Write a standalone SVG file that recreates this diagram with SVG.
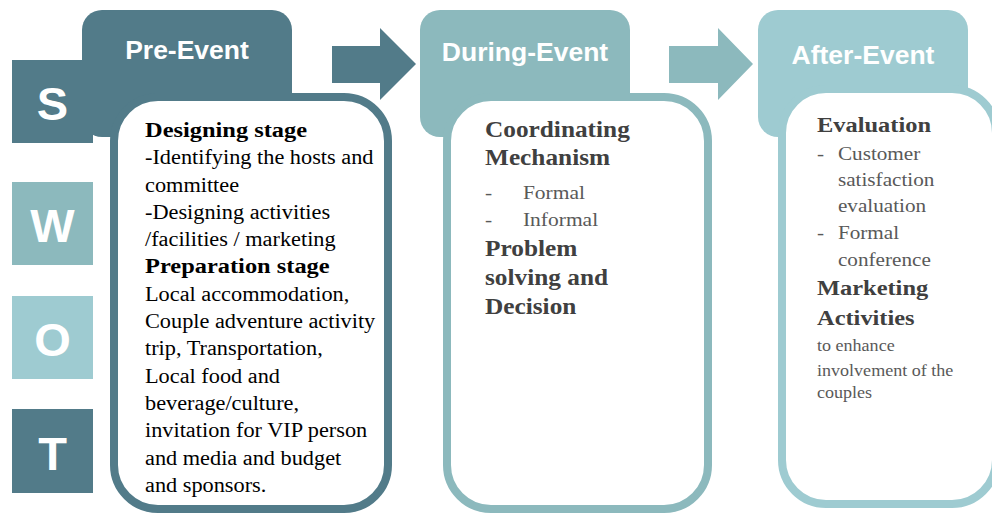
<svg xmlns="http://www.w3.org/2000/svg" width="992" height="514" viewBox="0 0 992 514">
  <style>
    .dark { fill: #527b89; }
    .mid { fill: #8cb9bd; }
    .light { fill: #9ecbd1; }
    .panel { fill: #ffffff; stroke-width: 8; }
    .hdr { font-family: "Liberation Sans", Arial, sans-serif; font-weight: bold; font-size: 26.5px; fill: #ffffff; text-anchor: middle; }
    .letter { font-family: "Liberation Sans", Arial, sans-serif; font-weight: bold; font-size: 47px; fill: #ffffff; text-anchor: middle; }
    .body { font-family: "Liberation Serif", "Times New Roman", serif; }
    .h { font-weight: bold; }
    .pre text { fill: #000000; }
    .gray .h { fill: #404040; }
    .gray .r { fill: #595959; }
  </style>

  <!-- Pre-Event phase -->
  <g id="pre-event">
    <rect class="dark" x="82" y="10" width="210" height="127" rx="20"/>
    <rect class="panel" x="114" y="97" width="274" height="412" rx="44" stroke="#527b89"/>
    <text class="hdr" x="187" y="59">Pre-Event</text>
    <g class="body pre" transform="translate(145 0) scale(1.115 1)">
      <text class="h" x="0" y="137" font-size="21.9">Designing stage</text>
      <text x="0" y="164.3" font-size="20">-Identifying the hosts and</text>
      <text x="0" y="191.6" font-size="20">committee</text>
      <text x="0" y="218.9" font-size="20">-Designing activities</text>
      <text x="0" y="246.2" font-size="20">/facilities / marketing</text>
      <text class="h" x="0" y="273.5" font-size="21.9">Preparation stage</text>
      <text x="0" y="300.8" font-size="20">Local accommodation,</text>
      <text x="0" y="328.1" font-size="20">Couple adventure activity</text>
      <text x="0" y="355.4" font-size="20">trip, Transportation,</text>
      <text x="0" y="382.7" font-size="20">Local food and</text>
      <text x="0" y="410" font-size="20">beverage/culture,</text>
      <text x="0" y="437.3" font-size="20">invitation for VIP person</text>
      <text x="0" y="464.6" font-size="20">and media and budget</text>
      <text x="0" y="492" font-size="20">and sponsors.</text>
    </g>
  </g>

  <!-- During-Event phase -->
  <g id="during-event">
    <rect class="mid" x="420" y="10" width="210" height="127" rx="20"/>
    <rect class="panel" x="447" y="97" width="261" height="412" rx="44" stroke="#8cb9bd"/>
    <text class="hdr" x="525" y="61">During-Event</text>
    <g class="body gray" transform="translate(485 0) scale(1.115 1)">
      <text class="h" x="0" y="137" font-size="22.7">Coordinating</text>
      <text class="h" x="0" y="165" font-size="22.7">Mechanism</text>
      <text class="r" x="0" y="199" font-size="19.3">-</text>
      <text class="r" x="34" y="199" font-size="19.3">Formal</text>
      <text class="r" x="0" y="226" font-size="19.3">-</text>
      <text class="r" x="34" y="226" font-size="19.3">Informal</text>
      <text class="h" x="0" y="256" font-size="22.7">Problem</text>
      <text class="h" x="0" y="285" font-size="22.7">solving and</text>
      <text class="h" x="0" y="314" font-size="22.7">Decision</text>
    </g>
  </g>

  <!-- After-Event phase -->
  <g id="after-event">
    <rect class="light" x="758" y="10" width="210" height="127" rx="20"/>
    <rect class="panel" x="782" y="89" width="214" height="415" rx="44" stroke="#9ecbd1"/>
    <text class="hdr" x="863" y="64">After-Event</text>
    <g class="body gray" transform="translate(817 0) scale(1.115 1)">
      <text class="h" x="0" y="132" font-size="21.9">Evaluation</text>
      <text class="r" x="0" y="160" font-size="19">-</text>
      <text class="r" x="18.8" y="160" font-size="19">Customer</text>
      <text class="r" x="18.8" y="186" font-size="19">satisfaction</text>
      <text class="r" x="18.8" y="212" font-size="19">evaluation</text>
      <text class="r" x="0" y="239" font-size="19">-</text>
      <text class="r" x="18.8" y="239" font-size="19">Formal</text>
      <text class="r" x="18.8" y="266" font-size="19">conference</text>
      <text class="h" x="0" y="295" font-size="21.9">Marketing</text>
      <text class="h" x="0" y="325" font-size="21.9">Activities</text>
      <text class="r" x="0" y="351" font-size="16.2">to enhance</text>
      <text class="r" x="0" y="376" font-size="16.2">involvement of the</text>
      <text class="r" x="0" y="398" font-size="16.2">couples</text>
    </g>
  </g>

  <!-- SWOT column -->
  <g id="swot-s">
    <rect class="dark" x="12" y="60" width="81" height="83"/>
    <text class="letter" x="52.5" y="120">S</text>
  </g>
  <g id="swot-w">
    <rect class="mid" x="12" y="182" width="81" height="83"/>
    <text class="letter" x="52.5" y="242">W</text>
  </g>
  <g id="swot-o">
    <rect class="light" x="12" y="296" width="81" height="83"/>
    <text class="letter" x="52.5" y="356">O</text>
  </g>
  <g id="swot-t">
    <rect class="dark" x="12" y="409" width="81" height="84"/>
    <text class="letter" x="52.5" y="470">T</text>
  </g>

  <!-- Block arrows between phases -->
  <g id="connectors">
    <polygon class="dark" points="332,46 380,46 380,28 416,64 380,100 380,83 332,83"/>
    <polygon class="mid" points="669,46 718,46 718,28 753,64 718,100 718,83 669,83"/>
  </g>
</svg>
